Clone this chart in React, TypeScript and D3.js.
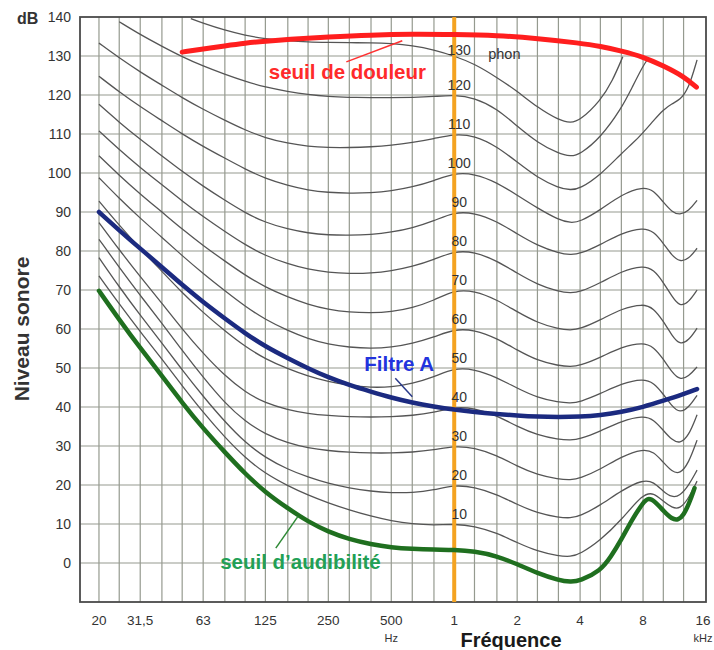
import React from "react";
import * as d3 from "d3";

type Pt = [number, number];

const gridFreqs = [20, 25, 31.5, 40, 50, 63, 80, 100, 125, 160, 200, 250, 315, 400, 500, 630, 800, 1000, 1250, 1600, 2000, 2500, 3150, 4000, 5000, 6300, 8000, 10000, 12500];
const yTickValues = [0, 10, 20, 30, 40, 50, 60, 70, 80, 90, 100, 110, 120, 130, 140];
const xTickFreqs = [20, 31.5, 63, 125, 250, 500, 1000, 2000, 4000, 8000, 16000];
const xTickLabels = ["20", "31,5", "63", "125", "250", "500", "1", "2", "4", "8", "16"];
const phonLevels = [10, 20, 30, 40, 50, 60, 70, 80, 90, 100, 110, 120, 130];

const phon10: Pt[] = [[20,73.6],[25,66.4],[31.5,59.3],[40,52.3],[50,45.4],[63,38.6],[80,32.2],[100,27.0],[125,22.9],[160,19.8],[200,17.4],[250,15.4],[315,13.6],[400,12.0],[500,10.8],[630,10.0],[800,9.7],[1000,10],[1250,9.5],[1600,7.7],[2000,5.2],[2500,3.0],[3150,1.8],[3600,1.6],[4000,2.3],[5000,5.8],[6300,11.0],[8000,17.8],[9000,18.0],[10000,15.8],[11000,14.2],[12000,13.8],[13200,16.5],[14500,21.0]];
const phon20: Pt[] = [[20,78.3],[25,70.8],[31.5,63.5],[40,56.4],[50,49.5],[63,42.7],[80,36.2],[100,30.9],[125,27.0],[160,24.0],[200,22.0],[250,20.4],[315,19.2],[400,18.4],[500,18.0],[630,18.0],[800,18.7],[1000,20],[1250,19.5],[1600,17.6],[2000,15.0],[2500,12.8],[3150,11.7],[3600,11.5],[4000,12.0],[5000,14.8],[6300,18.6],[8000,21.4],[9000,20.8],[10000,18.3],[11000,16.8],[12000,17.2],[13200,19.8],[14500,23.8]];
const phon30: Pt[] = [[20,83],[25,75.8],[31.5,68.6],[40,61.5],[50,54.5],[63,47.6],[80,41.0],[100,36.3],[125,33.0],[160,30.8],[200,29.5],[250,28.8],[315,28.4],[400,28.2],[500,28.2],[630,28.4],[800,29.0],[1000,30],[1250,29.6],[1600,27.6],[2000,24.8],[2500,22.6],[3150,21.5],[3600,21.3],[4000,21.7],[5000,24.0],[6300,27.3],[8000,29.3],[9000,28.5],[10000,25.8],[11000,23.4],[12000,22.8],[13200,25.5],[14500,31.5]];
const phon40: Pt[] = [[20,87.3],[25,80.3],[31.5,73.4],[40,66.6],[50,60.0],[63,53.7],[80,48.0],[100,43.8],[125,41.0],[160,39.3],[200,38.3],[250,37.8],[315,37.5],[400,37.4],[500,37.5],[630,37.8],[800,38.6],[1000,40],[1250,39.7],[1600,37.8],[2000,35.0],[2500,32.8],[3150,31.7],[3600,31.5],[4000,31.8],[5000,33.8],[6300,36.4],[8000,37.8],[9000,36.8],[10000,34.0],[11000,31.5],[12000,30.6],[13200,32.5],[14500,38.0]];
const phon50: Pt[] = [[20,92.8],[25,86.6],[31.5,80.6],[40,74.8],[50,69.3],[63,64.2],[80,59.5],[100,55.5],[125,52.3],[160,49.8],[200,47.9],[250,46.5],[315,45.5],[400,45.0],[500,45.1],[630,46.0],[800,47.7],[1000,50],[1250,49.7],[1600,47.6],[2000,44.8],[2500,42.4],[3150,41.2],[3600,41.0],[4000,41.3],[5000,43.4],[6300,46.0],[8000,47.3],[9000,46.2],[10000,43.3],[11000,40.2],[12000,38.5],[13200,39.8],[14500,43.0]];
const phon60: Pt[] = [[20,98.8],[25,93.5],[31.5,88.4],[40,83.5],[50,78.8],[63,74.2],[80,69.8],[100,65.8],[125,62.4],[160,59.6],[200,57.5],[250,56.1],[315,55.3],[400,55.0],[500,55.3],[630,56.3],[800,57.9],[1000,60],[1250,59.8],[1600,57.6],[2000,54.6],[2500,51.9],[3150,50.6],[3600,50.3],[4000,50.6],[5000,52.7],[6300,55.4],[8000,56.6],[9000,55.4],[10000,52.3],[11000,48.9],[12000,46.9],[13200,47.8],[14500,50.3]];
const phon70: Pt[] = [[20,104.4],[25,99.4],[31.5,94.6],[40,90.0],[50,85.6],[63,81.4],[80,77.4],[100,73.8],[125,70.7],[160,68.2],[200,66.3],[250,65.0],[315,64.3],[400,64.1],[500,64.4],[630,65.4],[800,67.3],[1000,70],[1250,69.8],[1600,67.5],[2000,64.4],[2500,61.6],[3150,60.0],[3600,59.7],[4000,60.0],[5000,62.3],[6300,65.2],[8000,66.5],[9000,65.3],[10000,62.0],[11000,58.3],[12000,55.9],[13200,57.0],[14500,60.2]];
const phon80: Pt[] = [[20,110.8],[25,106.0],[31.5,101.4],[40,97.0],[50,92.8],[63,88.8],[80,85.0],[100,81.6],[125,78.8],[160,76.7],[200,75.3],[250,74.5],[315,74.2],[400,74.3],[500,74.9],[630,76.0],[800,77.8],[1000,80],[1250,79.8],[1600,77.5],[2000,74.3],[2500,71.4],[3150,69.6],[3600,69.2],[4000,69.5],[5000,71.8],[6300,74.8],[8000,76.3],[9000,75.2],[10000,72.0],[11000,68.3],[12000,65.7],[13200,66.8],[14500,70.0]];
const phon90: Pt[] = [[20,117.6],[25,113.0],[31.5,108.6],[40,104.4],[50,100.4],[63,96.6],[80,93.0],[100,89.8],[125,87.3],[160,85.6],[200,84.6],[250,84.1],[315,84.0],[400,84.2],[500,84.8],[630,85.9],[800,87.7],[1000,90],[1250,89.8],[1600,87.6],[2000,84.4],[2500,81.4],[3150,79.5],[3600,79.0],[4000,79.3],[5000,81.6],[6300,84.6],[8000,86.0],[9000,85.0],[10000,82.0],[11000,78.8],[12000,77.2],[13200,77.9],[14500,80.7]];
const phon100: Pt[] = [[20,124.8],[25,120.8],[31.5,117.0],[40,113.4],[50,110.0],[63,106.8],[80,103.8],[100,101.0],[125,98.6],[160,96.8],[200,95.6],[250,95.0],[315,94.8],[400,94.9],[500,95.4],[630,96.4],[800,98.0],[1000,100],[1250,99.8],[1600,97.6],[2000,94.3],[2500,91.0],[3150,88.0],[3600,87.2],[4000,87.5],[5000,90.5],[6300,94.5],[8000,96.5],[9000,95.5],[10000,92.5],[11000,90.0],[12000,89.2],[13200,90.2],[14500,93.0]];
const phon110: Pt[] = [[20,133.3],[25,129.5],[31.5,125.9],[40,122.5],[50,119.3],[63,116.3],[80,113.5],[100,111.0],[125,109.0],[160,107.6],[200,106.8],[250,106.5],[315,106.5],[400,106.7],[500,107.1],[630,107.8],[800,108.8],[1000,110],[1250,109.6],[1600,106.8],[2000,102.8],[2500,98.8],[3150,96.2],[3600,95.6],[4000,96.0],[5000,99.5],[6300,105.0],[7100,107.5],[8000,110.3],[9000,113.5],[10000,116.2],[11000,117.8],[12000,118.7],[13200,121.5],[14500,129.0]];
const phon120: Pt[] = [[25,138.8],[31.5,135.5],[40,132.5],[50,129.8],[63,127.4],[80,125.3],[100,123.5],[125,122.0],[160,120.9],[200,120.1],[250,119.6],[315,119.4],[400,119.3],[500,119.3],[630,119.4],[800,119.6],[1000,120],[1250,119.3],[1600,116.5],[2000,112.0],[2500,107.8],[3150,105.0],[3600,104.2],[4000,104.8],[5000,109.0],[6300,116.5],[7100,122.0],[8000,127.5],[8500,129.5]];
const phon130: Pt[] = [[55,139.6],[63,138.4],[80,136.6],[100,135.3],[125,134.4],[160,133.9],[200,133.6],[250,133.5],[315,133.4],[400,133.4],[500,133.2],[630,132.7],[800,131.6],[1000,130],[1250,128.0],[1600,124.5],[2000,121.0],[2500,116.8],[3150,113.6],[3600,112.8],[4000,113.5],[5000,118.5],[5700,123.5],[6400,129.8]];

const seuilAudibilite: Pt[] = [[20,69.8],[25,62.4],[31.5,55.1],[40,48.0],[50,41.1],[63,34.5],[80,28.4],[100,22.9],[125,18.1],[160,14.0],[200,10.6],[250,8.0],[315,6.1],[400,4.8],[500,4.0],[630,3.6],[800,3.4],[1000,3.4],[1250,3.0],[1600,1.8],[2000,-0.3],[2500,-2.6],[3150,-4.4],[3600,-4.9],[4000,-4.6],[5000,-2.0],[5600,1.5],[6300,6.0],[7100,11.2],[8000,15.5],[8500,16.8],[9200,15.6],[10000,13.4],[11000,11.2],[11800,11.0],[12500,12.3],[13300,15.3],[14100,19.2]];
const filtreA: Pt[] = [[20,90],[25,85.3],[31.5,80.6],[40,75.9],[50,71.3],[63,66.9],[80,62.7],[100,58.9],[125,55.5],[160,52.5],[200,49.9],[250,47.6],[315,45.6],[400,43.9],[500,42.4],[630,41.1],[800,40.1],[1000,39.3],[1250,38.7],[1600,38.2],[2000,37.8],[2500,37.5],[3150,37.4],[4000,37.5],[5000,37.9],[6300,38.7],[8000,40.0],[10000,41.6],[12500,43.3],[14500,44.6]];
const seuilDouleur: Pt[] = [[50,131],[63,131.8],[80,132.6],[100,133.3],[125,133.8],[160,134.3],[250,134.9],[400,135.4],[630,135.6],[1000,135.5],[1600,135.3],[2500,134.5],[4000,133.3],[5000,132.5],[6300,131.3],[8000,129.8],[10000,127.5],[12500,124.8],[14400,122]];

const contours: Pt[][] = [phon10, phon20, phon30, phon40, phon50, phon60, phon70, phon80, phon90, phon100, phon110, phon120, phon130];

const FONT = "'Liberation Sans', Arial, Helvetica, sans-serif";

export default function App() {
  const x = d3.scaleLog().domain([16.23, 16000]).range([80, 706]);
  const y = d3.scaleLinear().domain([-10, 140]).range([602, 17]);
  const line = d3
    .line<Pt>()
    .x((d) => x(d[0]))
    .y((d) => y(d[1]))
    .curve(d3.curveBasis);

  const x0 = x.range()[0];
  const x1 = x.range()[1];
  const yTop = y(140);
  const yBot = y(-10);
  const xk = x(1000);

  return (
    <svg
      width={714}
      height={650}
      viewBox="0 0 714 650"
      style={{ position: "absolute", left: 0, top: 0, background: "#fff" }}
      fontFamily={FONT}
    >
      <rect x={0} y={0} width={714} height={650} fill="#fff" />
      <defs>
        <clipPath id="plot">
          <rect x={x0} y={yTop} width={x1 - x0} height={yBot - yTop} />
        </clipPath>
      </defs>
      {/* grid */}
      <g stroke="#959a8f" strokeWidth={1.2}>
        {gridFreqs.map((f) => (
          <line key={"v" + f} x1={x(f)} x2={x(f)} y1={yTop} y2={yBot} />
        ))}
        {yTickValues.slice(0, -1).map((v) => (
          <line key={"h" + v} x1={x0} x2={x1} y1={y(v)} y2={y(v)} />
        ))}
      </g>
      <rect x={x0} y={yTop} width={x1 - x0} height={yBot - yTop} fill="none" stroke="#4a4a4a" strokeWidth={1.8} />

      {/* equal loudness contours */}
      <g clipPath="url(#plot)" fill="none" stroke="#555" strokeWidth={1.3}>
        {contours.map((c, i) => (
          <path key={"c" + i} d={line(c) || ""} />
        ))}
      </g>

      {/* 1 kHz line */}
      <line x1={xk} x2={xk} y1={yTop} y2={yBot} stroke="#f4a321" strokeWidth={4} />

      {/* thick curves */}
      <g fill="none" strokeLinecap="round">
        <path d={line(seuilDouleur) || ""} stroke="#ff1e1e" strokeWidth={5} />
        <path d={line(filtreA) || ""} stroke="#1b2a80" strokeWidth={4.5} />
        <path d={line(seuilAudibilite) || ""} stroke="#1f6f1f" strokeWidth={4.5} />
      </g>

      {/* phon labels */}
      <g fontSize={14} fill="#333" textAnchor="middle">
        {phonLevels.map((p) => (
          <text key={"p" + p} x={xk + 5} y={y(p) - (p === 130 ? 1 : 5)}>
            {p}
          </text>
        ))}
      </g>
      <text x={xk + 34} y={59} fontSize={14.5} fill="#333">phon</text>

      {/* annotations */}
      <line x1={x(250) + 18} y1={y(128.5)} x2={x(500) + 11} y2={y(133.9)} stroke="#ff3030" strokeWidth={1.5} />
      <text x={x(160) - 19} y={y(124)} fontSize={20.5} fontWeight="bold" fill="#ff2a2a">seuil de douleur</text>

      <line x1={x(500) + 4} y1={y(47.4)} x2={x(630) + 0} y2={y(42.6)} stroke="#2a3a8a" strokeWidth={1.5} />
      <text x={x(315) + 15} y={y(49.2)} fontSize={20.5} fontWeight="bold" fill="#2233dd">Filtre A</text>

      <line x1={x(160) - 12} y1={y(3.8)} x2={x(160) + 10} y2={y(11.9)} stroke="#2f8a36" strokeWidth={1.5} />
      <text x={x(63) + 17} y={y(0) + 6} fontSize={20.5} fontWeight="bold" fill="#22a055">seuil d’audibilité</text>

      {/* y axis */}
      <g fontSize={14} fill="#333" textAnchor="end">
        {yTickValues.map((v) => (
          <text key={"yt" + v} x={71} y={y(v) + 5}>
            {v}
          </text>
        ))}
      </g>
      <text x={17} y={24} fontSize={16} fontWeight="bold" fill="#333">dB</text>
      <text
        transform={`translate(21, 329) rotate(-90)`}
        textAnchor="middle"
        dominantBaseline="central"
        fontSize={21}
        fontWeight="bold"
        fill="#333"
      >
        Niveau sonore
      </text>

      {/* x axis */}
      <g fontSize={13.5} fill="#333" textAnchor="middle">
        {xTickFreqs.map((f, i) => (
          <text key={"xt" + f} x={f === 16000 ? x(f) - 3 : x(f)} y={625}>
            {xTickLabels[i]}
          </text>
        ))}
      </g>
      <text x={x(500)} y={642} fontSize={11} fill="#333" textAnchor="middle">Hz</text>
      <text x={x(16000) - 3} y={642} fontSize={11} fill="#333" textAnchor="middle">kHz</text>
      <text x={511} y={647} fontSize={20} fontWeight="bold" fill="#1a1a1a" textAnchor="middle">Fréquence</text>
    </svg>
  );
}
